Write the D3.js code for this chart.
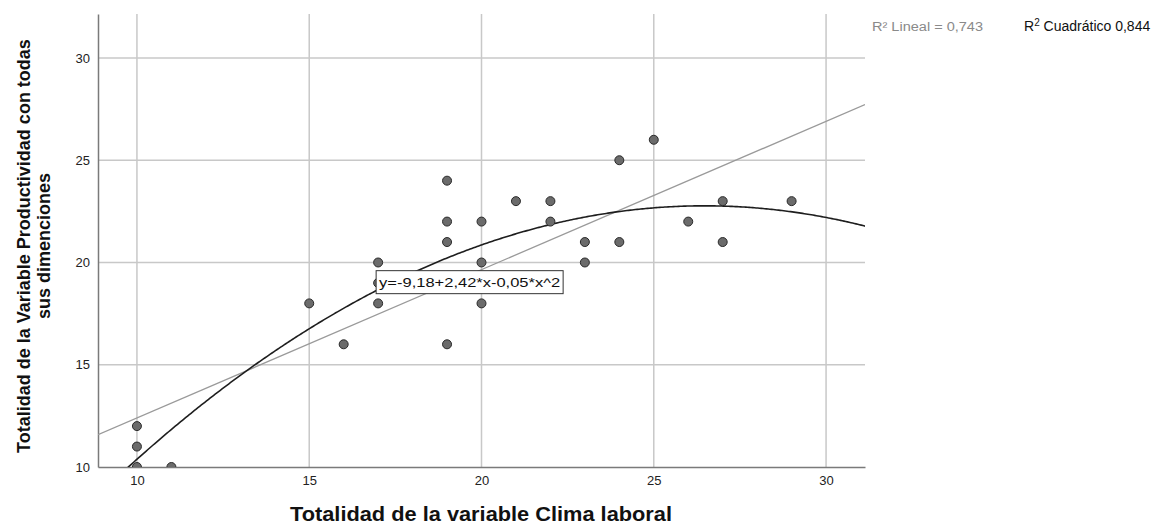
<!DOCTYPE html>
<html>
<head>
<meta charset="utf-8">
<script src="https://cdn.jsdelivr.net/npm/d3@7"></script>
<style>
    body { margin: 0; background: #fff; }
    svg { font-family: "Liberation Sans", Arial, sans-serif; }
</style>
</head>
<body>
<div id="chart"></div>
<script>
const climaLaboral = [10, 10, 10, 11, 15, 16, 17, 17, 17, 19, 19, 19, 19, 20, 20, 20, 21, 22, 22, 23, 23, 24, 24, 25, 26, 27, 27, 29];
const productividad = [12, 11, 10, 10, 18, 16, 20, 19, 18, 24, 22, 21, 16, 22, 20, 18, 23, 23, 22, 21, 20, 25, 21, 26, 22, 23, 21, 23];
const xTicks = [10, 15, 20, 25, 30];
const yTicks = [10, 15, 20, 25, 30];

// coeficientes de los ajustes (lineal y cuadratico)
const coefLineal = [5.15, 0.725];
const coefCuadratico = [-9.235, 2.418, -0.04567];
const etiquetaCuadratica = "y=-9,18+2,42*x-0,05*x^2";
const r2Lineal = "R\u00B2 Lineal = 0,743";
const r2Cuadratico = " Cuadrático 0,844";

class ScatterFit {
    constructor(selector) {
        this.width = 1158;
        this.height = 525;
        this.svg = d3.select(selector).append("svg")
            .attr("width", this.width)
            .attr("height", this.height);

        // ejes logicos
        this.x = d3.scaleLinear([8.87, 31.13], [98, 865]);
        this.y = d3.scaleLinear([10, 32.15], [467, 14]);

        this.update();
    }

    update() {
        const svg = this.svg, x = this.x, y = this.y;
        const [x0, x1] = x.range();
        const [y0, y1] = y.range();

        svg.append("clipPath").attr("id", "area")
            .append("rect")
            .attr("x", x0).attr("y", y1)
            .attr("width", x1 - x0).attr("height", y0 - y1);

        // rejilla
        svg.append("g").selectAll("line")
            .data(xTicks).enter().append("line")
            .attr("x1", d => x(d)).attr("x2", d => x(d))
            .attr("y1", y1).attr("y2", y0)
            .style("stroke", "#c8c8c8").style("stroke-width", 1.5);
        svg.append("g").selectAll("line")
            .data(yTicks.filter(d => d > 10)).enter().append("line")
            .attr("x1", x0).attr("x2", x1)
            .attr("y1", d => y(d)).attr("y2", d => y(d))
            .style("stroke", "#c8c8c8").style("stroke-width", 1.5);

        // ejes
        const axisX = svg.append("g").attr("transform", `translate(0,${y0})`)
            .call(d3.axisBottom(x).tickValues(xTicks).tickSize(0).tickPadding(9));
        const axisY = svg.append("g").attr("transform", `translate(${x0},0)`)
            .call(d3.axisLeft(y).tickValues(yTicks).tickSize(0).tickPadding(8));
        [axisX, axisY].forEach(a => {
            a.select(".domain").style("stroke", "#7a7a7a").style("stroke-width", 1.5);
            a.selectAll("text").style("font-size", "13px").style("fill", "#222");
        });

        // recta y parabola
        const plot = svg.append("g").attr("clip-path", "url(#area)");
        const lineal = v => coefLineal[0] + coefLineal[1] * v;
        const cuad = v => coefCuadratico[0] + coefCuadratico[1] * v + coefCuadratico[2] * v * v;
        const xs = d3.range(x.domain()[0], x.domain()[1] + 0.05, 0.05);
        const line = f => d3.line().x(v => x(v)).y(v => y(f(v)));

        plot.append("path").datum(x.domain())
            .attr("d", line(lineal))
            .style("fill", "none").style("stroke", "#9a9a9a").style("stroke-width", 1.3);
        plot.append("path").datum(xs)
            .attr("d", line(cuad))
            .style("fill", "none").style("stroke", "#1e1e1e").style("stroke-width", 1.6);

        // puntos
        plot.selectAll("circle")
            .data(climaLaboral.map((v, i) => ({ x: v, y: productividad[i] })))
            .enter().append("circle")
            .attr("cx", d => x(d.x))
            .attr("cy", d => y(d.y))
            .attr("r", 4.5)
            .style("fill", "#6b6b6b")
            .style("stroke", "#2a2a2a")
            .style("stroke-width", 1);

        // etiqueta de la ecuacion
        const lx = x(17) - 2, ly = y(19.6);
        svg.append("rect")
            .attr("x", lx).attr("y", ly)
            .attr("width", 187).attr("height", 23)
            .style("fill", "#fff").style("stroke", "#333").style("stroke-width", 1);
        svg.append("text")
            .attr("x", lx + 3).attr("y", ly + 16.5)
            .attr("textLength", 181).attr("lengthAdjust", "spacingAndGlyphs")
            .style("font-size", "13px").style("fill", "#111")
            .text(etiquetaCuadratica);

        // leyenda R2
        svg.append("text")
            .attr("x", 872).attr("y", 31)
            .attr("textLength", 111).attr("lengthAdjust", "spacingAndGlyphs")
            .style("font-size", "12px").style("fill", "#8a8a8a")
            .text(r2Lineal);
        const t2 = svg.append("text")
            .attr("x", 1024).attr("y", 31)
            .style("font-size", "14px").style("fill", "#111");
        t2.append("tspan").text("R");
        t2.append("tspan").attr("dy", -5).style("font-size", "10px").text("2");
        t2.append("tspan").attr("dy", 5).text(r2Cuadratico);

        // titulos de los ejes
        svg.append("text")
            .attr("x", 481).attr("y", 521)
            .attr("text-anchor", "middle")
            .attr("textLength", 382).attr("lengthAdjust", "spacingAndGlyphs")
            .style("font-size", "20px").style("font-weight", "bold").style("fill", "#111")
            .text("Totalidad de la variable Clima laboral");
        const ty = svg.append("text")
            .attr("transform", "translate(30,246) rotate(-90)")
            .attr("text-anchor", "middle")
            .style("font-size", "18px").style("font-weight", "bold").style("fill", "#111");
        ty.append("tspan").attr("x", 0).attr("y", 0)
            .text("Totalidad de la Variable Productividad con todas");
        ty.append("tspan").attr("x", 0).attr("y", 20)
            .text("sus dimenciones");
    }
}

new ScatterFit("#chart");
</script>
</body>
</html>
